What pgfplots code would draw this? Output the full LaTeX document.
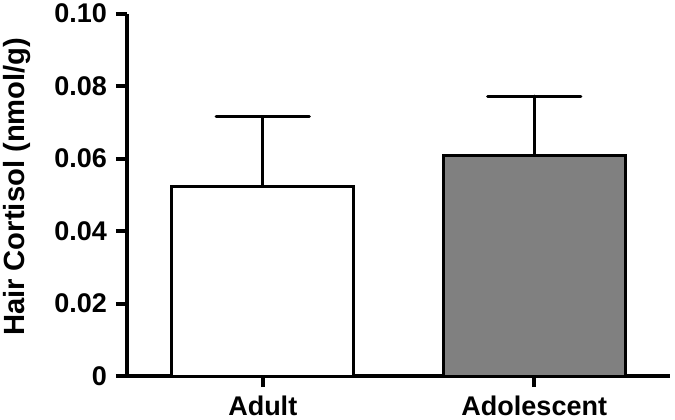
\documentclass[border=0pt]{standalone}
\usepackage{pgfplots}
\pgfplotsset{compat=1.18}
\usepackage{fontspec}
\setmainfont{Liberation Sans}
\begin{document}
\begin{tikzpicture}
\begin{axis}[
  at={(0,0)}, anchor=south west,
  scale only axis,
  width=271.5pt, height=181.25pt,
  xmin=-0.5, xmax=1.5,
  ymin=0, ymax=0.1,
  axis x line=bottom, axis y line=left,
  axis line style={-, line width=2pt, black},
  xtick={0,1}, xticklabels={Adult, Adolescent},
  ytick={0,0.02,0.04,0.06,0.08,0.1},
  yticklabels={0,0.02,0.04,0.06,0.08,0.10},
  tick align=outside,
  major tick length=5.5pt,
  tick style={line width=2pt, black},
  font=\fontsize{13.5}{15}\selectfont\bfseries,
  ticklabel style={font=\fontsize{13.5}{15}\selectfont\bfseries},
  yticklabel style={xshift=-1pt},
  xticklabel style={yshift=-1pt},
  ylabel={Hair Cortisol (nmol/g)},
  every axis y label/.style={at={(axis description cs:0,0.5)}, xshift=-55pt, yshift=4pt, rotate=90, anchor=center, font=\fontsize{14.6}{16}\selectfont\bfseries},
  ybar, bar width=0.67, bar shift=0pt,
  clip=false,
  error bars/y dir=plus, error bars/y explicit,
  error bars/error bar style={line width=1.6pt, black, line cap=round},
  error bars/error mark options={rotate=90, mark size=23.25pt, line width=1.6pt, black, line cap=round},
]
\addplot[fill=white, draw=black, line width=1.5pt] coordinates {(0,0.0524) +- (0,0.0191)};
\addplot[fill={rgb,255:red,128;green,128;blue,128}, draw=black, line width=1.5pt] coordinates {(1,0.0609) +- (0,0.0163)};
\end{axis}
\pgfresetboundingbox
\path (-63.5pt,-21.5pt) rectangle (274pt,188pt);
\end{tikzpicture}
\end{document}
